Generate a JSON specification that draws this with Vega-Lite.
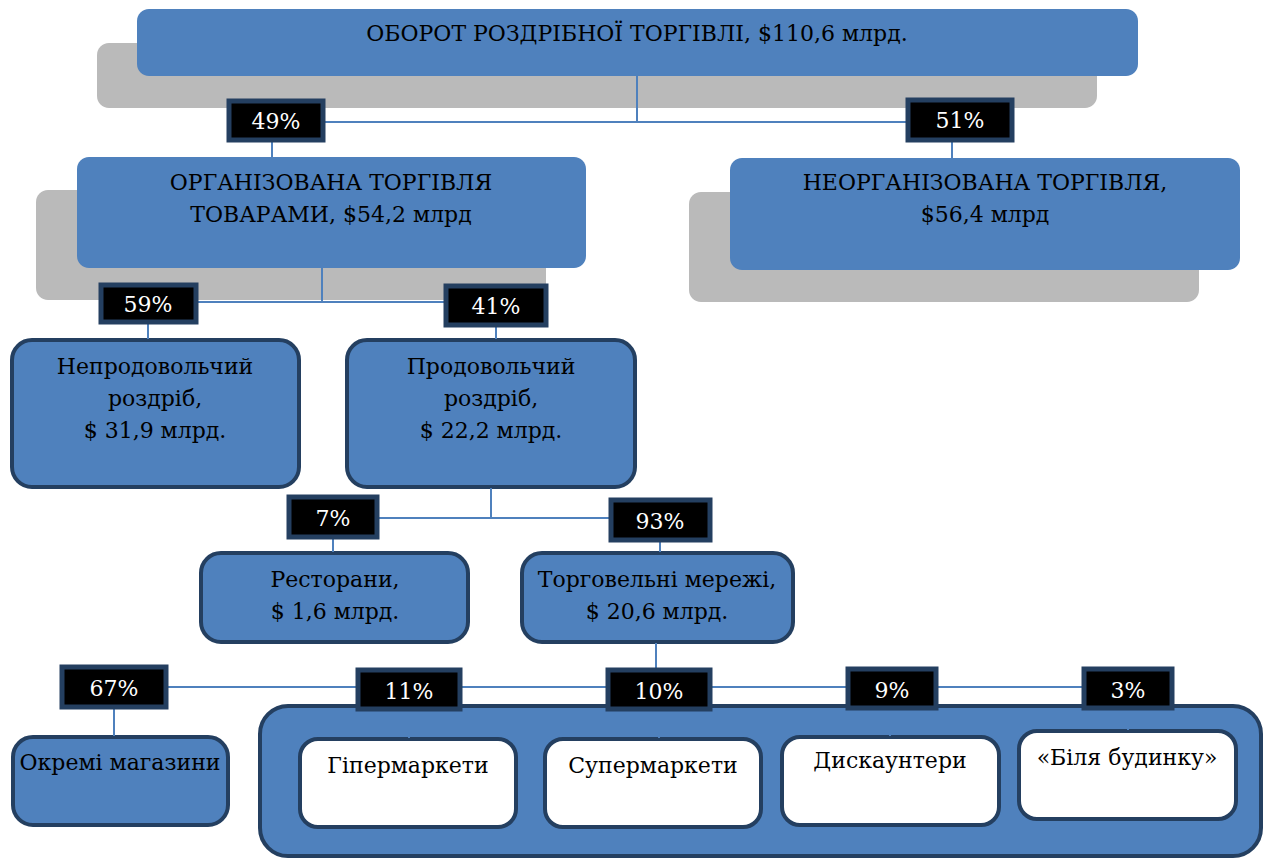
{
  "$schema": "https://vega.github.io/schema/vega-lite/v6.json",
  "width": 1266,
  "height": 859,
  "autosize": {"type": "fit", "contains": "padding"},
  "padding": 0,
  "background": "white",
  "config": {"view": {"stroke": null}},
  "datasets": {
    "shadows": [
      {"x1": 97, "x2": 1097, "y1": 43, "y2": 108},
      {"x1": 36, "x2": 546, "y1": 190, "y2": 300},
      {"x1": 689, "x2": 1199, "y1": 192, "y2": 302}
    ],
    "flat": [
      {"x1": 137, "x2": 1138, "y1": 9, "y2": 76},
      {"x1": 77, "x2": 586, "y1": 157, "y2": 268},
      {"x1": 730, "x2": 1240, "y1": 158, "y2": 270}
    ],
    "container": [
      {"x1": 260, "x2": 1261, "y1": 706, "y2": 856}
    ],
    "bordered": [
      {"x1": 12, "x2": 299, "y1": 340, "y2": 487},
      {"x1": 347, "x2": 635, "y1": 340, "y2": 487},
      {"x1": 201, "x2": 468, "y1": 553, "y2": 642},
      {"x1": 522, "x2": 793, "y1": 553, "y2": 642},
      {"x1": 13, "x2": 228, "y1": 737, "y2": 825}
    ],
    "white": [
      {"x1": 300, "x2": 516, "y1": 739, "y2": 827},
      {"x1": 545, "x2": 761, "y1": 739, "y2": 827},
      {"x1": 782, "x2": 999, "y1": 737, "y2": 825},
      {"x1": 1019, "x2": 1236, "y1": 731, "y2": 819}
    ],
    "lines": [
      {"x1": 637, "y1": 76, "x2": 637, "y2": 122},
      {"x1": 272, "y1": 122, "x2": 952, "y2": 122},
      {"x1": 272, "y1": 122, "x2": 272, "y2": 157},
      {"x1": 952, "y1": 122, "x2": 952, "y2": 158},
      {"x1": 322, "y1": 268, "x2": 322, "y2": 302},
      {"x1": 148, "y1": 302, "x2": 496, "y2": 302},
      {"x1": 148, "y1": 302, "x2": 148, "y2": 339},
      {"x1": 496, "y1": 302, "x2": 496, "y2": 339},
      {"x1": 491, "y1": 488, "x2": 491, "y2": 518},
      {"x1": 333, "y1": 518, "x2": 660, "y2": 518},
      {"x1": 333, "y1": 518, "x2": 333, "y2": 552},
      {"x1": 660, "y1": 518, "x2": 660, "y2": 552},
      {"x1": 656, "y1": 643, "x2": 656, "y2": 687},
      {"x1": 114, "y1": 687, "x2": 1128, "y2": 687},
      {"x1": 114, "y1": 687, "x2": 114, "y2": 736},
      {"x1": 409, "y1": 687, "x2": 409, "y2": 738},
      {"x1": 659, "y1": 687, "x2": 659, "y2": 738},
      {"x1": 890, "y1": 687, "x2": 890, "y2": 736},
      {"x1": 1128, "y1": 687, "x2": 1128, "y2": 730}
    ],
    "labels": [
      {"x1": 229, "x2": 323, "y1": 101, "y2": 140, "cx": 276, "ty": 129, "t": "49%"},
      {"x1": 908, "x2": 1012, "y1": 100, "y2": 140, "cx": 960, "ty": 128, "t": "51%"},
      {"x1": 101, "x2": 196, "y1": 285, "y2": 322, "cx": 148, "ty": 312, "t": "59%"},
      {"x1": 446, "x2": 546, "y1": 286, "y2": 325, "cx": 496, "ty": 314, "t": "41%"},
      {"x1": 289, "x2": 377, "y1": 497, "y2": 537, "cx": 333, "ty": 526, "t": "7%"},
      {"x1": 611, "x2": 710, "y1": 500, "y2": 540, "cx": 660, "ty": 529, "t": "93%"},
      {"x1": 62, "x2": 166, "y1": 667, "y2": 707, "cx": 114, "ty": 696, "t": "67%"},
      {"x1": 358, "x2": 460, "y1": 670, "y2": 709, "cx": 409, "ty": 699, "t": "11%"},
      {"x1": 608, "x2": 710, "y1": 670, "y2": 709, "cx": 659, "ty": 699, "t": "10%"},
      {"x1": 848, "x2": 936, "y1": 669, "y2": 708, "cx": 892, "ty": 698, "t": "9%"},
      {"x1": 1084, "x2": 1172, "y1": 669, "y2": 708, "cx": 1128, "ty": 698, "t": "3%"}
    ],
    "texts": [
      {"cx": 637, "ty": 41, "t": "ОБОРОТ РОЗДРІБНОЇ ТОРГІВЛІ, $110,6 млрд."},
      {"cx": 331, "ty": 190, "t": "ОРГАНІЗОВАНА ТОРГІВЛЯ\nТОВАРАМИ, $54,2 млрд"},
      {"cx": 985, "ty": 190, "t": "НЕОРГАНІЗОВАНА ТОРГІВЛЯ,\n$56,4 млрд"},
      {"cx": 155, "ty": 374, "t": "Непродовольчий\nроздріб,\n$ 31,9 млрд."},
      {"cx": 491, "ty": 374, "t": "Продовольчий\nроздріб,\n$ 22,2 млрд."},
      {"cx": 335, "ty": 587, "t": "Ресторани,\n$ 1,6 млрд."},
      {"cx": 657, "ty": 587, "t": "Торговельні мережі,\n$ 20,6 млрд."},
      {"cx": 120, "ty": 770, "t": "Окремі магазини"},
      {"cx": 408, "ty": 773, "t": "Гіпермаркети"},
      {"cx": 653, "ty": 773, "t": "Супермаркети"},
      {"cx": 890, "ty": 768, "t": "Дискаунтери"},
      {"cx": 1127, "ty": 765, "t": "«Біля будинку»"}
    ]
  },
  "layer": [
    {
      "data": {"name": "shadows"},
      "mark": {"type": "rect", "fill": "#bababa", "cornerRadius": 12},
      "encoding": {
        "x": {"field": "x1", "type": "quantitative", "scale": {"domain": [0, 1266], "nice": false, "zero": false}, "axis": null},
        "x2": {"field": "x2"},
        "y": {"field": "y1", "type": "quantitative", "scale": {"domain": [0, 859], "nice": false, "zero": false, "reverse": true}, "axis": null},
        "y2": {"field": "y2"}
      }
    },
    {
      "data": {"name": "flat"},
      "mark": {"type": "rect", "fill": "#4f81bd", "cornerRadius": 12},
      "encoding": {
        "x": {"field": "x1", "type": "quantitative", "scale": {"domain": [0, 1266], "nice": false, "zero": false}, "axis": null},
        "x2": {"field": "x2"},
        "y": {"field": "y1", "type": "quantitative", "scale": {"domain": [0, 859], "nice": false, "zero": false, "reverse": true}, "axis": null},
        "y2": {"field": "y2"}
      }
    },
    {
      "data": {"name": "container"},
      "mark": {"type": "rect", "fill": "#4f81bd", "stroke": "#243f60", "strokeWidth": 4, "cornerRadius": 28},
      "encoding": {
        "x": {"field": "x1", "type": "quantitative", "scale": {"domain": [0, 1266], "nice": false, "zero": false}, "axis": null},
        "x2": {"field": "x2"},
        "y": {"field": "y1", "type": "quantitative", "scale": {"domain": [0, 859], "nice": false, "zero": false, "reverse": true}, "axis": null},
        "y2": {"field": "y2"}
      }
    },
    {
      "data": {"name": "bordered"},
      "mark": {"type": "rect", "fill": "#4f81bd", "stroke": "#243f60", "strokeWidth": 4, "cornerRadius": 20},
      "encoding": {
        "x": {"field": "x1", "type": "quantitative", "scale": {"domain": [0, 1266], "nice": false, "zero": false}, "axis": null},
        "x2": {"field": "x2"},
        "y": {"field": "y1", "type": "quantitative", "scale": {"domain": [0, 859], "nice": false, "zero": false, "reverse": true}, "axis": null},
        "y2": {"field": "y2"}
      }
    },
    {
      "data": {"name": "white"},
      "mark": {"type": "rect", "fill": "#ffffff", "stroke": "#243f60", "strokeWidth": 4, "cornerRadius": 18},
      "encoding": {
        "x": {"field": "x1", "type": "quantitative", "scale": {"domain": [0, 1266], "nice": false, "zero": false}, "axis": null},
        "x2": {"field": "x2"},
        "y": {"field": "y1", "type": "quantitative", "scale": {"domain": [0, 859], "nice": false, "zero": false, "reverse": true}, "axis": null},
        "y2": {"field": "y2"}
      }
    },
    {
      "data": {"name": "lines"},
      "mark": {"type": "rule", "stroke": "#4f81bd", "strokeWidth": 2},
      "encoding": {
        "x": {"field": "x1", "type": "quantitative", "scale": {"domain": [0, 1266], "nice": false, "zero": false}, "axis": null},
        "x2": {"field": "x2"},
        "y": {"field": "y1", "type": "quantitative", "scale": {"domain": [0, 859], "nice": false, "zero": false, "reverse": true}, "axis": null},
        "y2": {"field": "y2"}
      }
    },
    {
      "data": {"name": "labels"},
      "mark": {"type": "rect", "fill": "#000000", "stroke": "#243f60", "strokeWidth": 5},
      "encoding": {
        "x": {"field": "x1", "type": "quantitative", "scale": {"domain": [0, 1266], "nice": false, "zero": false}, "axis": null},
        "x2": {"field": "x2"},
        "y": {"field": "y1", "type": "quantitative", "scale": {"domain": [0, 859], "nice": false, "zero": false, "reverse": true}, "axis": null},
        "y2": {"field": "y2"}
      }
    },
    {
      "data": {"name": "labels"},
      "mark": {"type": "text", "color": "#ffffff", "font": "DejaVu Serif", "fontSize": 22, "align": "center", "baseline": "alphabetic"},
      "encoding": {
        "x": {"field": "cx", "type": "quantitative", "scale": {"domain": [0, 1266], "nice": false, "zero": false}, "axis": null},
        "y": {"field": "ty", "type": "quantitative", "scale": {"domain": [0, 859], "nice": false, "zero": false, "reverse": true}, "axis": null},
        "text": {"field": "t", "type": "nominal"}
      }
    },
    {
      "data": {"name": "texts"},
      "mark": {"type": "text", "color": "#000000", "font": "DejaVu Serif", "fontSize": 22, "lineHeight": 32, "lineBreak": "\n", "align": "center", "baseline": "alphabetic"},
      "encoding": {
        "x": {"field": "cx", "type": "quantitative", "scale": {"domain": [0, 1266], "nice": false, "zero": false}, "axis": null},
        "y": {"field": "ty", "type": "quantitative", "scale": {"domain": [0, 859], "nice": false, "zero": false, "reverse": true}, "axis": null},
        "text": {"field": "t", "type": "nominal"}
      }
    }
  ]
}
